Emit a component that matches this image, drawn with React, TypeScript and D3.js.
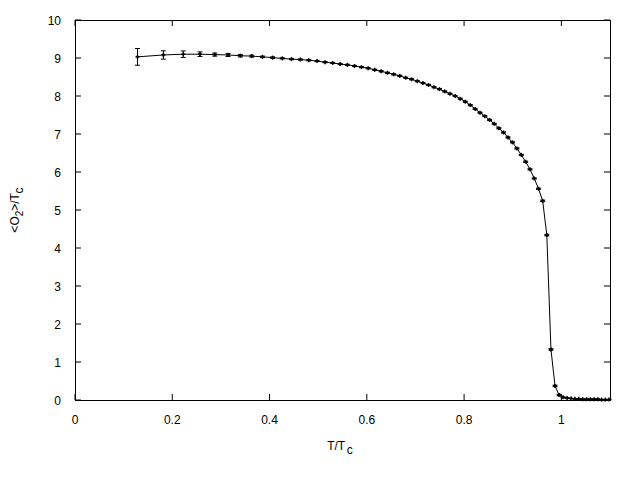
import React from "react";
import * as d3 from "d3";

const T_VALUES = [
  0.1285, 0.1817, 0.2226, 0.257, 0.2873, 0.3148, 0.34, 0.3634, 0.3855, 0.4064,
  0.4262, 0.4451, 0.4633, 0.4808, 0.4977, 0.514, 0.5298, 0.5452, 0.5601, 0.5747,
  0.5889, 0.6027, 0.6163, 0.6295, 0.6425, 0.6552, 0.6677, 0.68, 0.692, 0.7038,
  0.7155, 0.7269, 0.7382, 0.7493, 0.7602, 0.771, 0.7816, 0.7921, 0.8025, 0.8127,
  0.8228, 0.8328, 0.8426, 0.8524, 0.862, 0.8715, 0.881, 0.8903, 0.8995, 0.9086,
  0.9177, 0.9266, 0.9355, 0.9443, 0.953, 0.9616, 0.9701, 0.9786, 0.987, 0.9954,
  1.0036, 1.0118, 1.0199, 1.028, 1.036, 1.0439, 1.0518, 1.0596, 1.0674, 1.0751,
  1.0828, 1.0904, 1.0979,
];

const O2_VALUES = [
  9.03, 9.08, 9.1, 9.1, 9.09, 9.08, 9.06, 9.05, 9.03, 9.01,
  8.99, 8.97, 8.96, 8.94, 8.92, 8.89, 8.87, 8.84, 8.82, 8.79,
  8.76, 8.73, 8.69, 8.65, 8.61, 8.57, 8.53, 8.48, 8.44, 8.39,
  8.34, 8.29, 8.23, 8.18, 8.12, 8.06, 8.0, 7.93, 7.85, 7.76,
  7.66, 7.56, 7.47, 7.37, 7.27, 7.15, 7.04, 6.91, 6.78, 6.62,
  6.45, 6.27, 6.07, 5.83, 5.56, 5.24, 4.34, 1.33, 0.37, 0.13,
  0.07, 0.05, 0.04, 0.03, 0.03, 0.02, 0.02, 0.02, 0.02, 0.02,
  0.01, 0.01, 0.01,
];

const O2_ERRORS = [
  0.22, 0.11, 0.085, 0.06, 0.04, 0.04, 0.03, 0.025, 0.02, 0.02,
  0.015, 0.015, 0.015, 0.015, 0.015, 0.015, 0.015, 0.015, 0.015, 0.015,
  0.015, 0.015, 0.015, 0.015, 0.015, 0.015, 0.015, 0.015, 0.015, 0.015,
  0.015, 0.015, 0.015, 0.015, 0.015, 0.015, 0.015, 0.015, 0.015, 0.015,
  0.015, 0.015, 0.015, 0.015, 0.015, 0.015, 0.015, 0.015, 0.015, 0.015,
  0.015, 0.015, 0.015, 0.015, 0.015, 0.02, 0.02, 0.02, 0.02, 0.02,
  0.01, 0.005, 0.005, 0.005, 0.005, 0.005, 0.005, 0.005, 0.005, 0.005,
  0.005, 0.005, 0.005,
];

const X_TICKS = [0, 0.2, 0.4, 0.6, 0.8, 1];
const X_TICK_LABELS = ["0", "0.2", "0.4", "0.6", "0.8", "1"];
const Y_TICKS = [0, 1, 2, 3, 4, 5, 6, 7, 8, 9, 10];
const Y_TICK_LABELS = ["0", "1", "2", "3", "4", "5", "6", "7", "8", "9", "10"];

const W = 640;
const H = 480;
const LEFT = 75;
const RIGHT = 610;
const TOP = 20;
const BOTTOM = 400;
const TICK = 6;
const FONT = "'Liberation Sans', Arial, sans-serif";

export default function App() {
  const x = d3.scaleLinear().domain([0, 1.1]).range([LEFT, RIGHT]);
  const y = d3.scaleLinear().domain([0, 10]).range([BOTTOM, TOP]);
  const pts = T_VALUES.map((t, i) => ({ t, v: O2_VALUES[i], e: O2_ERRORS[i] }));
  const line = d3
    .line<{ t: number; v: number }>()
    .x((d) => x(d.t))
    .y((d) => y(d.v));

  return (
    <svg
      width={W}
      height={H}
      style={{ position: "absolute", left: 0, top: 0, background: "#fff" }}
      fontFamily={FONT}
      fontSize={12}
    >
      <rect x={0} y={0} width={W} height={H} fill="#fff" />
      {X_TICKS.map((t, i) => (
        <g key={"xt" + i}>
          <line x1={x(t)} x2={x(t)} y1={BOTTOM} y2={BOTTOM - TICK} stroke="#000" />
          <line x1={x(t)} x2={x(t)} y1={TOP} y2={TOP + TICK} stroke="#000" />
          <text x={x(t)} y={BOTTOM + 24} textAnchor="middle" fill="#000">
            {X_TICK_LABELS[i]}
          </text>
        </g>
      ))}
      {Y_TICKS.map((t, i) => (
        <g key={"yt" + i}>
          <line x1={LEFT} x2={LEFT + TICK} y1={y(t)} y2={y(t)} stroke="#000" />
          <line x1={RIGHT} x2={RIGHT - TICK} y1={y(t)} y2={y(t)} stroke="#000" />
          <text x={LEFT - 14} y={y(t) + 4.5} textAnchor="end" fill="#000">
            {Y_TICK_LABELS[i]}
          </text>
        </g>
      ))}
      <rect
        x={LEFT + 0.5}
        y={TOP + 0.5}
        width={RIGHT - LEFT}
        height={BOTTOM - TOP}
        fill="none"
        stroke="#000"
        shapeRendering="crispEdges"
      />
      <path d={line(pts) || ""} fill="none" stroke="#000" strokeWidth={1} />
      {pts.map((d, i) => {
        const cx = x(d.t);
        const cy = y(d.v);
        const yt = y(d.v + d.e);
        const yb = y(d.v - d.e);
        return (
          <g key={"p" + i} stroke="#000" strokeWidth={1}>
            <line x1={cx} x2={cx} y1={yt} y2={yb} />
            <line x1={cx - 2.5} x2={cx + 2.5} y1={yt} y2={yt} />
            <line x1={cx - 2.5} x2={cx + 2.5} y1={yb} y2={yb} />
            <line x1={cx - 2} x2={cx + 2} y1={cy} y2={cy} strokeWidth={1.5} />
            <line x1={cx} x2={cx} y1={cy - 2} y2={cy + 2} strokeWidth={1.5} />
          </g>
        );
      })}
      <text x={340} y={450} textAnchor="middle" fill="#000">
        T/T
        <tspan dx={3} dy={4}>c</tspan>
      </text>
      <text
        transform={`translate(19, ${(TOP + BOTTOM) / 2}) rotate(-90)`}
        textAnchor="middle"
        fill="#000"
      >
        {"<O"}
        <tspan dy={4} fontSize={10}>2</tspan>
        <tspan dy={-4}>{">/T"}</tspan>
        <tspan dx={1} dy={4}>c</tspan>
      </text>
    </svg>
  );
}
